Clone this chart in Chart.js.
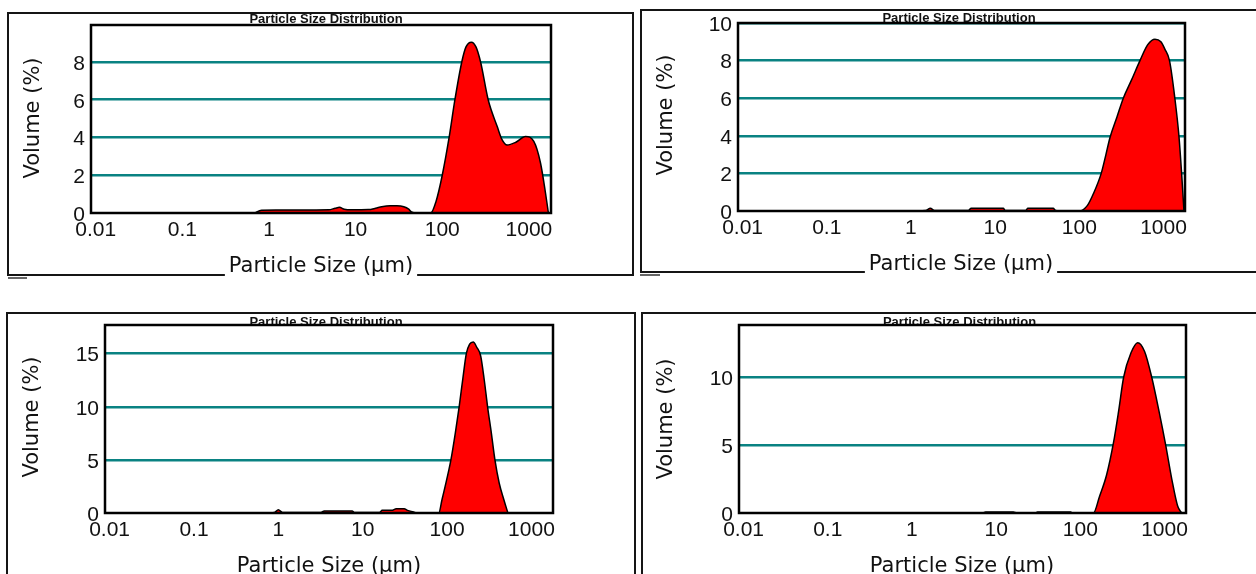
<!DOCTYPE html>
<html>
<head>
<meta charset="utf-8">
<script src="https://cdn.jsdelivr.net/npm/chart.js@4.4.1/dist/chart.umd.min.js"></script>
<style>
  html, body { margin: 0; padding: 0; background: #fff; width: 1256px; height: 574px; overflow: hidden; }
  canvas { position: absolute; }
</style>
</head>
<body>
<canvas id="c1" width="637" height="295" style="left:0;top:0"></canvas>
<canvas id="c2" width="619" height="295" style="left:637px;top:0"></canvas>
<canvas id="c3" width="637" height="279" style="left:0;top:295px"></canvas>
<canvas id="c4" width="619" height="279" style="left:637px;top:295px"></canvas>
<script>
// ── axis text ─────────────────────────────
const TITLE   = 'Particle Size Distribution';
const X_TITLE = 'Particle Size (µm)';
const Y_TITLE = 'Volume (%)';
const X_TICKS  = [0.01, 0.1, 1, 10, 100, 1000];
const X_LABELS = ['0.01', '0.1', '1', '10', '100', '1000'];
const X_MIN = 0.00882, X_MAX = 1800;

// ── top left ──────────────────────────────
const size1 = [0.68, 0.82, 1.2, 2.2, 4.9, 5.8, 6.5, 7.4, 9, 14, 17, 20, 25, 30, 36, 41, 44, 51, 60, 73.6,
               84.6, 100, 120, 140, 168, 188, 217, 245, 277, 339, 431, 488, 562, 708, 915, 1140, 1362, 1555, 1680];
const vol1  = [0, 0.15, 0.16, 0.16, 0.17, 0.25, 0.3, 0.2, 0.17, 0.18, 0.25, 0.33, 0.38, 0.38, 0.33, 0.2, 0.06, 0, 0, 0,
               0.6, 2, 4, 6, 8, 8.8, 9.05, 8.8, 8, 6, 4.58, 3.9, 3.6, 3.75, 4.05, 3.79, 2.65, 1.06, 0];
const yTicks1 = [0, 2, 4, 6, 8];

// ── top right ─────────────────────────────
const size2 = [1.1, 1.5, 1.7, 1.9, 4.8, 5.2, 12.5, 13.2, 23, 24.5, 49, 52, 57,
               100, 125, 148, 182, 207, 231, 280, 333, 420, 525, 650, 791, 931, 1040, 1178, 1364, 1524, 1641, 1750];
const vol2  = [0, 0.03, 0.15, 0.03, 0.03, 0.15, 0.15, 0.03, 0.03, 0.15, 0.15, 0.03, 0,
               0, 0.3, 0.95, 2, 3, 3.9, 5.0, 6, 7, 8, 8.85, 9.14, 9.0, 8.6, 8, 6, 4, 2, 0];
const yTicks2 = [0, 2, 4, 6, 8, 10];

// ── bottom left ───────────────────────────
const size3 = [0.63, 0.9, 1.0, 1.12, 1.6, 3.2, 3.5, 7.5, 8.0, 15.8, 17, 22, 25, 31, 34, 40, 44,
               79.6, 87, 98, 111, 125, 139, 154, 169, 185, 204, 225, 250, 276, 302, 335, 369, 415, 471, 526];
const vol3  = [0, 0.05, 0.3, 0.05, 0.05, 0.05, 0.2, 0.2, 0.05, 0.05, 0.25, 0.25, 0.4, 0.4, 0.25, 0.1, 0,
               0, 1.25, 3, 5, 7.5, 10, 12.7, 15, 15.9, 16.1, 15.6, 14.8, 12.5, 10, 7.5, 5, 2.8, 1.25, 0];
const yTicks3 = [0, 5, 10, 15];

// ── bottom right ──────────────────────────
const size4 = [5, 7, 7.5, 16, 17.5, 29, 31, 77, 80,
               143, 169, 205, 248, 285, 327, 400, 480, 580, 705, 860, 1033, 1220, 1436, 1603];
const vol4  = [0, 0, 0.07, 0.07, 0, 0, 0.07, 0.07, 0,
               0, 1.22, 2.8, 5.2, 7.5, 10, 11.8, 12.55, 11.9, 10, 7.5, 5, 2.5, 0.49, 0];
const yTicks4 = [0, 5, 10];

const FONT = '"DejaVu Sans", sans-serif';
const TICK_FONT = '"Liberation Sans", Arial, sans-serif';
const TEAL = '#0a8282';

// frame, title, axis titles, plot border
const panelDeco = {
  id: 'panelDeco',
  afterDraw(chart, args, o) {
    const ctx = chart.ctx, a = chart.chartArea;
    const f = o.frame;
    ctx.save();
    ctx.strokeStyle = '#151515';
    ctx.lineWidth = 2;
    ctx.strokeRect(f[0], f[1], f[2] - f[0], f[3] - f[1]);
    if (o.stub) {
      ctx.strokeStyle = '#666';
      ctx.beginPath(); ctx.moveTo(o.stub[0], o.stub[1]); ctx.lineTo(o.stub[2], o.stub[1]); ctx.stroke();
    }

    ctx.fillStyle = '#111';
    ctx.font = 'bold 13px "Liberation Sans", sans-serif';
    ctx.textAlign = 'center';
    ctx.textBaseline = 'alphabetic';
    ctx.fillText(TITLE, o.title[0], o.title[1]);

    ctx.strokeStyle = '#000';
    ctx.lineWidth = 2.5;
    ctx.strokeRect(a.left, a.top, a.right - a.left, a.bottom - a.top);

    ctx.font = '21px ' + FONT;
    const w = ctx.measureText(X_TITLE).width;
    ctx.fillStyle = '#fff';
    ctx.fillRect(o.xTitle[0] - w / 2 - 4, f[3] - 3, w + 8, 6);
    ctx.fillStyle = '#111';
    ctx.fillText(X_TITLE, o.xTitle[0], o.xTitle[1]);

    ctx.translate(o.yTitle[0], o.yTitle[1]);
    ctx.rotate(-Math.PI / 2);
    ctx.textBaseline = 'middle';
    ctx.fillText(Y_TITLE, 0, 0);
    ctx.restore();
  }
};

function makeChart(id, sizes, vols, yMax, yTicks, lay) {
  return new Chart(document.getElementById(id), {
    type: 'line',
    data: {
      datasets: [{
        data: sizes.map((s, i) => ({ x: s, y: vols[i] })),
        fill: 'origin',
        backgroundColor: '#ff0000',
        borderColor: '#000',
        borderWidth: 1.5,
        pointRadius: 0,
        cubicInterpolationMode: 'monotone',
      }],
    },
    options: {
      responsive: false,
      animation: false,
      devicePixelRatio: 1,
      layout: { padding: { left: 0, top: lay.top, right: lay.right, bottom: 0 } },
      plugins: { legend: { display: false }, tooltip: { enabled: false }, panelDeco: lay },
      scales: {
        x: {
          type: 'logarithmic', min: X_MIN, max: X_MAX,
          afterBuildTicks: s => { s.ticks = X_TICKS.map(v => ({ value: v })); },
          afterFit: s => { s.height = lay.xAxisH; },
          grid: { display: false, drawTicks: false },
          border: { display: false },
          ticks: {
            autoSkip: false, maxRotation: 0, padding: 5, color: '#111',
            font: { family: TICK_FONT, size: 21 },
            callback: (v, i) => X_LABELS[i],
          },
        },
        y: {
          min: 0, max: yMax,
          afterBuildTicks: s => { s.ticks = yTicks.map(v => ({ value: v })); },
          afterFit: s => { s.width = lay.yAxisW; },
          grid: {
            color: c => (c.tick && c.tick.value === 0 ? 'rgba(0,0,0,0)' : TEAL),
            lineWidth: 2.5, drawTicks: false,
          },
          border: { display: false },
          ticks: { padding: 6, labelOffset: 2, color: '#111', font: { family: TICK_FONT, size: 21 } },
        },
      },
    },
    plugins: [panelDeco],
  });
}

makeChart('c1', size1, vol1, 9.96, yTicks1, {
  top: 25, right: 86, yAxisW: 91, xAxisH: 82,
  frame: [8, 13, 633, 275], stub: [8, 278, 27],
  title: [326, 22.5], xTitle: [321, 271.5], yTitle: [34, 118],
});
makeChart('c2', size2, vol2, 10, yTicks2, {
  top: 23, right: 71, yAxisW: 101, xAxisH: 84,
  frame: [4, 10, 640, 272], stub: [3, 275, 23],
  title: [322, 21.5], xTitle: [324, 269.5], yTitle: [30, 115],
});
makeChart('c3', size3, vol3, 17.7, yTicks3, {
  top: 30, right: 84, yAxisW: 105, xAxisH: 61,
  frame: [7, 18, 635, 300],
  title: [326, 31], xTitle: [329, 277], yTitle: [33, 122],
});
makeChart('c4', size4, vol4, 13.85, yTicks4, {
  top: 30, right: 70, yAxisW: 102, xAxisH: 61,
  frame: [5, 18, 640, 300],
  title: [322.5, 31.3], xTitle: [325, 277], yTitle: [30, 124],
});
</script>
</body>
</html>
